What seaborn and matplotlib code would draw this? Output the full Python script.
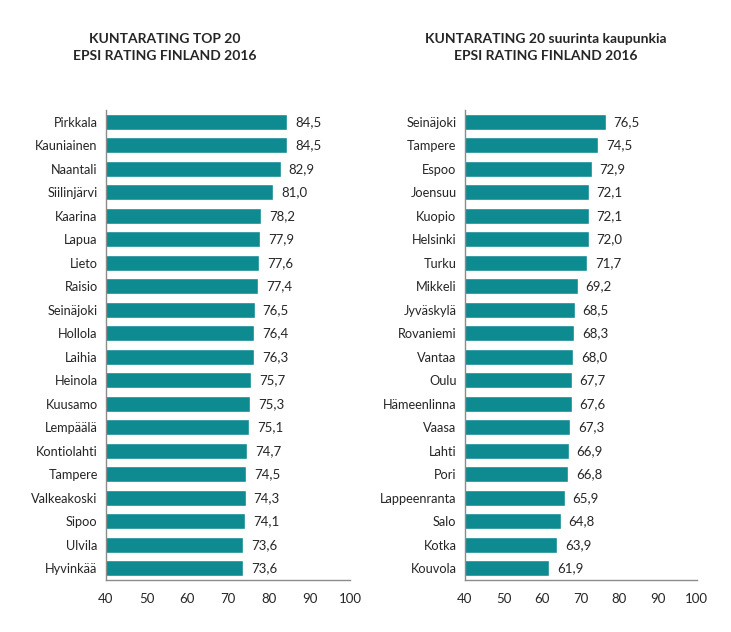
import pandas as pd
import seaborn as sns
import matplotlib.pyplot as plt

# left chart: top 20 municipalities
top_names = ['Pirkkala', 'Kauniainen', 'Naantali', 'Siilinjärvi', 'Kaarina', 'Lapua',
             'Lieto', 'Raisio', 'Seinäjoki', 'Hollola', 'Laihia', 'Heinola', 'Kuusamo',
             'Lempäälä', 'Kontiolahti', 'Tampere', 'Valkeakoski', 'Sipoo', 'Ulvila', 'Hyvinkää']
top_values = [84.5, 84.5, 82.9, 81.0, 78.2, 77.9, 77.6, 77.4, 76.5, 76.4, 76.3, 75.7,
              75.3, 75.1, 74.7, 74.5, 74.3, 74.1, 73.6, 73.6]

# right chart: 20 largest cities
city_names = ['Seinäjoki', 'Tampere', 'Espoo', 'Joensuu', 'Kuopio', 'Helsinki', 'Turku',
              'Mikkeli', 'Jyväskylä', 'Rovaniemi', 'Vantaa', 'Oulu', 'Hämeenlinna', 'Vaasa',
              'Lahti', 'Pori', 'Lappeenranta', 'Salo', 'Kotka', 'Kouvola']
city_values = [76.5, 74.5, 72.9, 72.1, 72.1, 72.0, 71.7, 69.2, 68.5, 68.3, 68.0, 67.7,
               67.6, 67.3, 66.9, 66.8, 65.9, 64.8, 63.9, 61.9]

titles = ['KUNTARATING TOP 20\nEPSI RATING FINLAND 2016',
          'KUNTARATING 20 suurinta kaupunkia\nEPSI RATING FINLAND 2016']
ticks = [40, 50, 60, 70, 80, 90, 100]

sns.set_style('white')
plt.rcParams['font.family'] = ['Lato', 'DejaVu Sans']

bar_color = '#0E8A91'
axis_color = '#8c8c8c'

fig = plt.figure(figsize=(7.31, 6.32), dpi=100)
ax1 = fig.add_axes([0.145, 0.082, 0.334, 0.744])
ax2 = fig.add_axes([0.636, 0.082, 0.317, 0.744])

for ax, names, vals, title, tx in [(ax1, top_names, top_values, titles[0], 0.226),
                                   (ax2, city_names, city_values, titles[1], 0.747)]:
    df = pd.DataFrame({'name': names, 'value': vals})
    sns.barplot(data=df, y='name', x='value', color=bar_color, width=0.68,
                saturation=1, ax=ax, orient='h')
    ax.set_xlim(40, 100)
    ax.set_ylim(len(names) - 0.5, -0.5)
    ax.set_xticks(ticks)
    ax.set_xticklabels([str(t) for t in ticks], fontsize=9.5)
    ax.set_xlabel('')
    ax.set_ylabel('')
    ax.tick_params(axis='y', labelsize=9.2, length=0, pad=6)
    ax.tick_params(axis='x', length=5, color=axis_color, pad=4, direction='out')
    # category separator ticks on y axis
    ax.set_yticks([i - 0.5 for i in range(len(names) + 1)], minor=True)
    ax.tick_params(axis='y', which='minor', length=5, color=axis_color, direction='out')
    for s in ['top', 'right']:
        ax.spines[s].set_visible(False)
    for s in ['left', 'bottom']:
        ax.spines[s].set_color(axis_color)
        ax.spines[s].set_linewidth(1)
    for i, v in enumerate(vals):
        ax.text(v + 2.0, i, f'{v:.1f}'.replace('.', ','), va='center', ha='left', fontsize=9.5)
    fig.text(tx, 0.925, title, ha='center', va='center', fontsize=10, fontweight='bold',
             linespacing=1.45)

plt.savefig('out.png', dpi=100)
